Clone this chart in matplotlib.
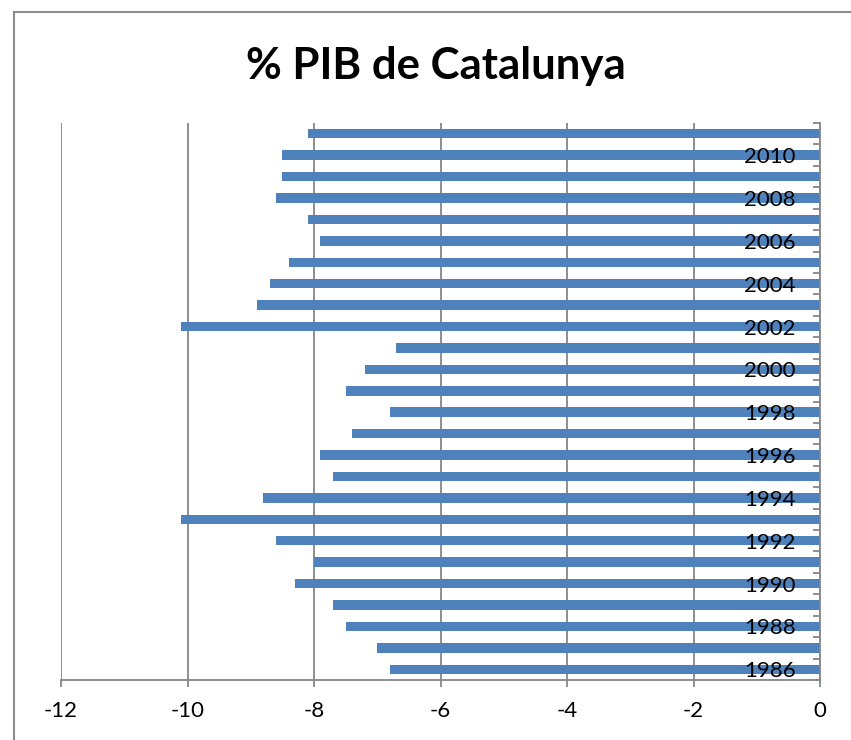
import matplotlib
matplotlib.use("Agg")
import matplotlib.pyplot as plt
from matplotlib.lines import Line2D

plt.rcParams['font.family'] = ['Lato', 'DejaVu Sans']

years = list(range(1986, 2012))
pib = [-6.8, -7.0, -7.5, -7.7, -8.3, -8.0, -8.6, -10.1, -8.8, -7.7,
       -7.9, -7.4, -6.8, -7.5, -7.2, -6.7, -10.1, -8.9, -8.7, -8.4,
       -7.9, -8.1, -8.6, -8.5, -8.5, -8.1]
xticks = [-12, -10, -8, -6, -4, -2, 0]
label_years = [y for y in years if y % 2 == 0]

W, H = 851, 740
fig = plt.figure(figsize=(W / 100, H / 100), dpi=100)
ax = fig.add_axes([61 / W, 1 - 680 / H, (820 - 61) / W, (680 - 123) / H])

grey = '#868686'
pos = [y - years[0] for y in years]
ax.barh(pos, pib, height=0.44, color='#4F81BD', zorder=3)

ax.set_xlim(-12, 0)
ax.set_ylim(-0.5, len(years) - 0.5)
ax.set_xticks(xticks)
ax.set_xticklabels([str(v) for v in xticks])
ax.xaxis.grid(True, color=grey, linewidth=1.3, zorder=1)

# y axis sits at x = 0 (right side), labels drawn inside the plot over the bars
ax.yaxis.set_ticks_position('right')
ax.set_yticks([y - years[0] for y in label_years])
ax.set_yticklabels([str(y) for y in label_years])
ax.set_yticks([i - 0.5 for i in range(len(years) + 1)], minor=True)
ax.tick_params(axis='y', which='major', length=0, pad=-17.5,
               labelright=True, labelleft=False, labelsize=16)
ax.tick_params(axis='y', which='minor', direction='in', length=5,
               color=grey, width=1.3)
for lab in ax.get_yticklabels():
    lab.set_horizontalalignment('right')
ax.yaxis.set_zorder(5)
ax.tick_params(axis='x', direction='out', length=5, color=grey, width=1.3,
               labelsize=16, pad=10)

for s in ['top', 'left']:
    ax.spines[s].set_visible(False)
for s in ['right', 'bottom']:
    ax.spines[s].set_color(grey)
    ax.spines[s].set_linewidth(1.3)
    ax.spines[s].set_zorder(5)

fig.text(436 / W, 1 - 66 / H, '% PIB de Catalunya', ha='center', va='center',
         fontsize=31.5, fontweight='bold')

# chart area border (left and top edges visible)
fig.add_artist(Line2D([13.5 / W, 13.5 / W], [0, 1 - 12 / H], color='#8c8c8c',
                      linewidth=1.5, transform=fig.transFigure))
fig.add_artist(Line2D([13.5 / W, 1], [1 - 12 / H, 1 - 12 / H], color='#8c8c8c',
                      linewidth=1.5, transform=fig.transFigure))

fig.savefig('out.png', dpi=100)
